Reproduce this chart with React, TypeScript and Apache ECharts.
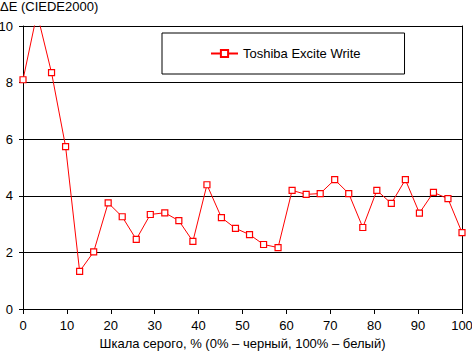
import React, { useEffect, useRef } from "react";
import * as echarts from "echarts";

const grayLevels = [0, 3.2, 6.5, 9.7, 12.9, 16.1, 19.4, 22.6, 25.8, 29.0, 32.3, 35.5, 38.7, 41.9, 45.2, 48.4, 51.6, 54.8, 58.1, 61.3, 64.5, 67.7, 71.0, 74.2, 77.4, 80.6, 83.9, 87.1, 90.3, 93.5, 96.8, 100];
const deltaE = [8.1, 10.45, 8.35, 5.74, 1.33, 2.02, 3.75, 3.26, 2.46, 3.34, 3.4, 3.12, 2.39, 4.39, 3.23, 2.85, 2.63, 2.28, 2.17, 4.19, 4.05, 4.08, 4.57, 4.08, 2.88, 4.19, 3.73, 4.57, 3.39, 4.12, 3.9, 2.7];
const seriesName = "Toshiba Excite Write";
const xTitle = "Шкала серого, % (0% – черный, 100% – белый)";
const yTitle = "ΔE (CIEDE2000)";

const FONT = "'Liberation Sans', Arial, sans-serif";

export default function App() {
  const ref = useRef<HTMLDivElement>(null);
  useEffect(() => {
    if (!ref.current) return;
    const chart = echarts.init(ref.current, null, { renderer: "svg" });
    chart.setOption({
      animation: false,
      backgroundColor: "#ffffff",
      textStyle: { fontFamily: FONT, fontSize: 13, color: "#000" },
      grid: { left: 23, right: 10, top: 26, bottom: 43, containLabel: false, outerBoundsMode: "none" },
      graphic: [
        {
          type: "text",
          left: 0,
          top: 0,
          style: { text: yTitle, font: `13px ${FONT}`, fill: "#000" },
        },
      ],
      legend: {
        left: 162,
        top: 33,
        padding: [14, 44, 14, 48],
        borderColor: "#000",
        borderWidth: 1,
        backgroundColor: "#fff",
        itemWidth: 27,
        itemHeight: 9,
        textStyle: { fontFamily: FONT, fontSize: 13, color: "#000" },
        data: [seriesName],
      },
      xAxis: {
        type: "value",
        min: 0,
        max: 100,
        interval: 10,
        name: xTitle,
        nameLocation: "middle",
        nameGap: 27,
        nameTextStyle: { fontFamily: FONT, fontSize: 13, color: "#000" },
        axisLine: { show: true, lineStyle: { color: "#000", width: 1 } },
        axisTick: { show: true, length: 5, lineStyle: { color: "#000" } },
        axisLabel: { margin: 10, fontFamily: FONT, fontSize: 13, color: "#000" },
        splitLine: { show: false },
      },
      yAxis: [
        {
          type: "value",
          min: 0,
          max: 10,
          interval: 2,
          axisLine: { show: true, lineStyle: { color: "#000", width: 1 } },
          axisTick: { show: true, length: 4, lineStyle: { color: "#000" } },
          axisLabel: { margin: 10, fontFamily: FONT, fontSize: 13, color: "#000" },
          splitLine: { show: true, lineStyle: { color: "#000", width: 1 } },
        },
        {
          type: "value",
          position: "right",
          min: 0,
          max: 10,
          interval: 2,
          axisLine: { show: true, lineStyle: { color: "#000", width: 1 } },
          axisTick: { show: false },
          axisLabel: { show: false },
          splitLine: { show: false },
        },
      ],
      series: [
        {
          name: seriesName,
          type: "line",
          data: grayLevels.map((x, i) => [x, deltaE[i]]),
          symbol: "rect",
          symbolSize: 6,
          clip: true,
          lineStyle: { color: "#ff0000", width: 1 },
          itemStyle: { color: "#ffffff", borderColor: "#ff0000", borderWidth: 1.2 },
          emphasis: { disabled: true },
        },
      ],
    });
    return () => chart.dispose();
  }, []);
  return <div ref={ref} style={{ width: 472, height: 352, position: "absolute", left: 0, top: 0 }} />;
}
